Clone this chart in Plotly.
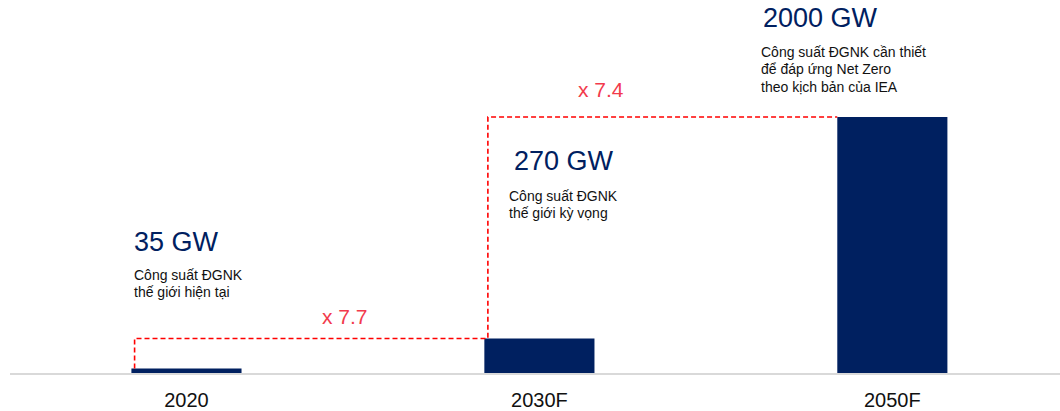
import plotly.graph_objects as go

categories = ["2020", "2030F", "2050F"]
capacity_gw = [35, 270, 2000]
value_labels = ["35 GW", "270 GW", "2000 GW"]
descriptions = [
    ["Công suất ĐGNK", "thế giới hiện tại"],
    ["Công suất ĐGNK", "thế giới kỳ vọng"],
    ["Công suất ĐGNK cần thiết", "để đáp ứng Net Zero", "theo kịch bản của IEA"],
]
multipliers = ["x 7.7", "x 7.4"]

NAVY = "#002060"
RED = "#f23a4c"
FONT = "Liberation Sans, Arial, sans-serif"
BAR_W = 0.312
half = BAR_W / 2
PX = 2000 / 256  # data units per pixel on the y axis

fig = go.Figure()
fig.add_trace(go.Bar(
    x=list(range(len(categories))), y=capacity_gw, width=BAR_W,
    marker=dict(color=NAVY, line=dict(width=0)), hoverinfo="skip",
))

# dashed growth path
xs = [0 - half + 0.009, 0 - half + 0.009, 1 - half + 0.01, 1 - half + 0.01, 2 - half]
ys = [capacity_gw[0], capacity_gw[1], capacity_gw[1], capacity_gw[2], capacity_gw[2]]
fig.add_trace(go.Scatter(
    x=xs, y=ys, mode="lines",
    line=dict(color="#ff0000", width=1.6, dash="5px,3px"), hoverinfo="skip",
))

# text annotations
val_pos = [(-0.153, 1023), (0.9235, 1660), (1.629, 2770)]
desc_pos = [(-0.153, 766), (0.909, 1383), (1.623, 2508)]
for i in range(3):
    fig.add_annotation(x=val_pos[i][0], y=val_pos[i][1], xref="x", yref="y",
                       text=value_labels[i], showarrow=False, xanchor="left", yanchor="middle",
                       font=dict(family=FONT, size=27, color=NAVY))
    for j, line in enumerate(descriptions[i]):
        fig.add_annotation(x=desc_pos[i][0], y=desc_pos[i][1] - j * 17.3 * PX, xref="x", yref="y",
                           text=line, showarrow=False, xanchor="left", yanchor="middle",
                           align="left", font=dict(family=FONT, size=14, color="#111111"))

mult_pos = [(0.448, 445), (1.174, 2211)]
for i in range(2):
    fig.add_annotation(x=mult_pos[i][0], y=mult_pos[i][1], xref="x", yref="y",
                       text=multipliers[i], showarrow=False, xanchor="center", yanchor="middle",
                       font=dict(family=FONT, size=21, color=RED))

fig.update_layout(
    width=1060, height=411,
    margin=dict(l=10, r=0, t=0, b=38),
    paper_bgcolor="white", plot_bgcolor="white",
    showlegend=False,
    xaxis=dict(range=[-0.5, 2.475], tickmode="array", tickvals=list(range(len(categories))),
               ticktext=categories, showgrid=False, zeroline=False,
               showline=True, linecolor="#d9d9d9", linewidth=2,
               ticks="", ticklabelstandoff=8,
               tickfont=dict(family=FONT, size=20, color="#111111")),
    yaxis=dict(range=[0, 2914], visible=False, showgrid=False, zeroline=False),
)

fig.write_html("out.html", config={"displayModeBar": False},
               post_script="document.body.style.margin='0';document.body.style.overflow='hidden';")
